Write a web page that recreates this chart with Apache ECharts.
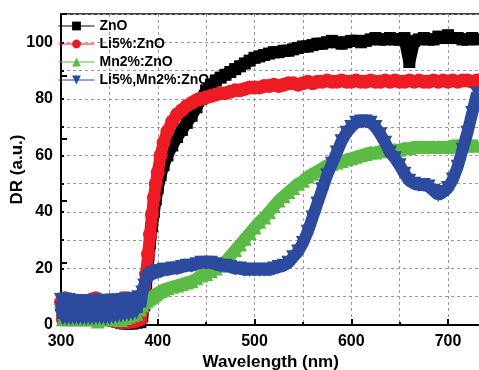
<!DOCTYPE html>
<html><head><meta charset="utf-8">
<script src="https://cdn.jsdelivr.net/npm/echarts@6/dist/echarts.min.js"></script>
<style>html,body{margin:0;padding:0;background:#fff}#c{width:479px;height:370px}</style>
</head><body><div id="c"></div>
<script>
// Wavelength samples (nm)
const wavelength = [
  300,302,304,306,308,310,312,314,316,318,320,322,324,326,328,330,332,334,336,338,
  340,342,344,346,348,350,352,354,356,358,360,362,364,366,368,370,372,374,376,378,
  380,382,384,
  386,388,390,392,394,396,398,400,403,406,
  410,415,420,425,430,435,440,445,450,455,
  460,465,470,475,480,485,490,495,500,505,
  510,515,520,525,530,535,540,545,550,555,
  560,565,570,575,580,585,590,595,600,605,
  610,615,620,625,630,635,640,645,650,655,
  660,665,670,675,680,685,690,695,700,705,
  710,715,720,725,730
];
const seriesNames = ['ZnO', 'Li5%:ZnO', 'Mn2%:ZnO', 'Li5%,Mn2%:ZnO'];
const znO = [
  7,2,7,2,7,2,7,2,7,2,7,2,7,2,7,2,7,2,7,2,
  7,2,7,2,7,2,7,1.5,7,1.2,7,0.8,7,0.5,7,0.5,7,0.5,7,0.8,
  6,1,3,
  7,15,22,29,35,40,44.5,48.5,53,56.5,
  60,63.5,66.5,69,71.5,74,77,80,83,85,
  86.5,87.5,88.5,89.5,90.5,91.5,92.5,93.5,94.5,95,
  95.5,96,96.5,96.5,97,97,97.5,98,98.5,98.5,
  99,99.5,99.5,100,100.5,100,99.5,100,100.5,100.5,
  100,100.5,101,101.5,101,101,101.5,101,101,101.5,
  93,100.5,101,101.5,101,101,102,101.5,102.5,101.5,
  101.5,101,101,101.5,101
];
const li5ZnO = [
  8,2,9.5,2,8,2,8,2,8.5,2,8,2,8,2,8,2,9,2,9.5,2,
  8,2,8,2,8,2,8,1.5,8,1.2,8.5,1,9.5,1,9.5,1,8.5,1.2,8,1.5,
  7,2,5,
  11,18,25,32,39,45,50,54,60,64.5,
  68.5,72,74.5,76,77.5,78.5,79.5,80,80.5,81,
  81.5,82,82,82.5,83,83,83.5,84,84,84,
  84.5,84.5,85,84.5,85,85.5,85.5,85,85.5,86,
  85.5,86,86,86.5,86,86,86.5,86,86,86.5,
  86,86,86.5,86,86,86.5,86,86.5,86,86,
  86.5,86,86.5,86,86,86.5,86,86.5,86,86.5,
  86,86.5,86.5,86,86.5
];
const mn2ZnO = [
  8,2,9.2,2,8,2,8,2,8,2,8,2,8,2,8,2,8,2,8,1.2,
  8,2,8,2,8,2,8,2,8,2,8,1.8,9.3,2.5,9.5,3,8.5,3.5,8.5,4,
  8.5,5.5,7,
  8,8.5,9,9.5,10,10.5,11,11.5,12,12.5,
  13,13.5,14,14.5,15,15.5,16.5,17.5,18,19,
  20,21,22.5,24.5,26.5,28.5,30.5,32.5,34.5,36.5,
  38,40,42,44,45.5,47,48.5,50,51,52.5,
  53.5,54.5,55.5,56.5,57,57.5,58,58.5,59,59.5,
  60,60.5,61,61,61.5,61.5,62,62,62,62.5,
  62.5,63,63,63,63,63,63,63,63,63.5,
  63.5,63.5,63.5,63.5,63.5
];
const li5Mn2ZnO = [
  8.8,2.3,9,2.3,8.8,2.3,8.5,2.3,8.5,2.3,8.5,2.3,8.5,2.3,8.5,2.3,8.5,2.3,8.7,2.5,
  8.5,2.5,8.5,2.3,8.5,2.5,8.7,2.7,8.7,3,8.7,3.3,8.8,3.5,9,3.7,9,4,9.3,4.5,
  9.8,6.5,11.5,
  14,16,17,17.5,18,18.5,18.5,19,19,19.5,
  19.5,20,20,20.5,21,21,21.5,22,22,22,
  21.5,21,21,20.5,20,20,19.5,19.5,19.5,19.5,
  19.5,19.5,20,20.5,21,22,24,26,29,33,
  38,43,48,53,57,61,65,68,70,71.5,
  72,72,71.5,70,67.5,64.5,61,59,56.5,53.5,
  51,50,49.5,49.5,49,47.5,46,47,48.5,51.5,
  56,62,68,75,82
];
const yTickLabels = [0, 20, 40, 60, 80, 100];
const xTickLabels = [300, 400, 500, 600, 700];

const colors = ['#000000', '#ed1c24', '#5cbb46', '#2c4a9e'];
const symbols = ['rect', 'circle', 'triangle', 'triangle'];
const rotates = [0, 0, 0, 180];
const sizes = [12, 14, 14, 14];
const values = [znO, li5ZnO, mn2ZnO, li5Mn2ZnO];

const FONT = 'Liberation Sans, Arial, sans-serif';
const grid = {left: 61, top: 14, bottom: 45, right: -17.4, containLabel: false, outerBoundsMode: 'none',
  show: true, borderColor: '#000', borderWidth: 1.5, backgroundColor: 'transparent'};
const dash = {color: '#9a9a9a', type: [3, 3], width: 1};

const series = seriesNames.map((n, k) => ({
  name: n, type: 'line', xAxisIndex: 0, yAxisIndex: 0,
  data: wavelength.map((w, i) => [w, values[k][i]]),
  symbol: symbols[k], symbolRotate: rotates[k], symbolSize: sizes[k], showAllSymbol: true,
  itemStyle: {color: colors[k]},
  lineStyle: {color: colors[k], width: 12},
  z: 2 + k, animation: false
}));

const chart = echarts.init(document.getElementById('c'), null, {renderer: 'canvas'});
chart.setOption({
  animation: false,
  grid: grid,
  legend: {
    show: true, orient: 'vertical', left: 58, top: 19, itemWidth: 36, itemHeight: 11, itemGap: 4,
    padding: 0,
    lineStyle: {width: 1},
    textStyle: {fontFamily: FONT, fontWeight: 'bold', fontSize: 14, color: '#000'},
    data: seriesNames
  },
  xAxis: [
    {type: 'value', min: 300, max: 750, interval: 50, position: 'bottom',
     axisLine: {show: true, onZero: false, lineStyle: {color: '#000', width: 2}},
     axisTick: {show: true, inside: true, length: 3, lineStyle: {color: '#000', width: 2}},
     splitLine: {show: true, lineStyle: dash},
     axisLabel: {margin: 9, fontFamily: FONT, fontWeight: 'bold', fontSize: 16, color: '#000',
       formatter: v => xTickLabels.indexOf(v) >= 0 ? String(v) : ''},
     name: 'Wavelength (nm)', nameLocation: 'middle', nameGap: 29, nameMoveOverlap: false,
     nameTextStyle: {fontFamily: FONT, fontWeight: 'bold', fontSize: 17, color: '#000', padding: [0, 16, 0, 0]}},
    {type: 'value', min: 300, max: 750, interval: 100, position: 'bottom',
     axisLine: {show: false, onZero: false},
     axisTick: {show: true, inside: true, length: 6, lineStyle: {color: '#000', width: 2}},
     splitLine: {show: false}, axisLabel: {show: false}}
  ],
  yAxis: [
    {type: 'value', min: 0, max: 110, interval: 10, position: 'left',
     axisLine: {show: true, onZero: false, lineStyle: {color: '#000', width: 2}},
     axisTick: {show: true, inside: true, length: 3, lineStyle: {color: '#000', width: 2}},
     splitLine: {show: true, lineStyle: dash},
     axisLabel: {margin: 8, fontFamily: FONT, fontWeight: 'bold', fontSize: 16, color: '#000',
       formatter: v => yTickLabels.indexOf(v) >= 0 ? String(v) : ''},
     name: 'DR (a.u.)', nameLocation: 'middle', nameGap: 35, nameRotate: 90, nameMoveOverlap: false,
     nameTextStyle: {fontFamily: FONT, fontWeight: 'bold', fontSize: 17, color: '#000'}},
    {type: 'value', min: 0, max: 100, interval: 20, position: 'left',
     axisLine: {show: false, onZero: false},
     axisTick: {show: true, inside: true, length: 6, lineStyle: {color: '#000', width: 2}},
     splitLine: {show: false}, axisLabel: {show: false}}
  ],
  series: series
});
</script>
</body></html>
